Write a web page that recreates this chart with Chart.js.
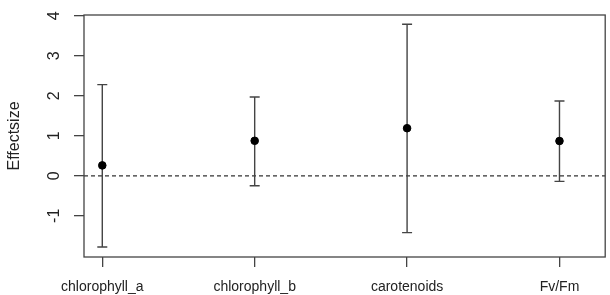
<!DOCTYPE html>
<html lang="en">
<head>
  <meta charset="utf-8">
  <title>Effectsize</title>
  <script src="https://cdn.jsdelivr.net/npm/chart.js"></script>
  <style>
    html, body { margin: 0; padding: 0; background: #fff; }
  </style>
</head>
<body>
  <canvas id="chart" width="610" height="295"></canvas>
  <script>
    // data
    const categories = ['chlorophyll_a', 'chlorophyll_b', 'carotenoids', 'Fv/Fm'];
    const effect = [0.26, 0.875, 1.19, 0.87];
    const lower = [-1.78, -0.25, -1.42, -0.14];
    const upper = [2.28, 1.97, 3.79, 1.87];
    const yTicks = [-1, 0, 1, 2, 3, 4];

    const textColor = '#222';
    const lineColor = '#444';
    const fontFamily = 'Liberation Sans, Arial, sans-serif';
    const xFont = { family: fontFamily, size: 14 };
    const yFont = { family: fontFamily, size: 16 };

    // whiskers, zero line, box and rotated y labels
    const rPlot = {
      id: 'rPlot',
      beforeDatasetsDraw(chart) {
        const { ctx, chartArea, scales } = chart;
        const x = scales.x, y = scales.y;
        ctx.save();
        // dashed line at 0
        ctx.strokeStyle = '#333';
        ctx.lineWidth = 1.2;
        ctx.setLineDash([4, 3]);
        ctx.beginPath();
        ctx.moveTo(chartArea.left, y.getPixelForValue(0));
        ctx.lineTo(chartArea.right, y.getPixelForValue(0));
        ctx.stroke();
        ctx.setLineDash([]);
        // error bars
        ctx.strokeStyle = lineColor;
        ctx.lineWidth = 1.4;
        for (let i = 0; i < categories.length; i++) {
          const px = x.getPixelForValue(i);
          const lo = y.getPixelForValue(lower[i]);
          const hi = y.getPixelForValue(upper[i]);
          ctx.beginPath();
          ctx.moveTo(px, lo); ctx.lineTo(px, hi);
          ctx.moveTo(px - 5, lo); ctx.lineTo(px + 5, lo);
          ctx.moveTo(px - 5, hi); ctx.lineTo(px + 5, hi);
          ctx.stroke();
        }
        ctx.restore();
      },
      afterDraw(chart) {
        const { ctx, chartArea, scales } = chart;
        ctx.save();
        ctx.strokeStyle = lineColor;
        ctx.lineWidth = 1.3;
        ctx.strokeRect(chartArea.left, chartArea.top, chartArea.right - chartArea.left, chartArea.bottom - chartArea.top);
        // y tick labels, rotated like base R
        ctx.fillStyle = textColor;
        ctx.font = yFont.size + 'px ' + yFont.family;
        ctx.textAlign = 'center';
        ctx.textBaseline = 'middle';
        yTicks.forEach(v => {
          ctx.save();
          ctx.translate(55, scales.y.getPixelForValue(v));
          ctx.rotate(-Math.PI / 2);
          ctx.fillText(String(v), 0, 0);
          ctx.restore();
        });
        ctx.restore();
      }
    };

    new Chart(document.getElementById('chart'), {
      type: 'scatter',
      data: {
        datasets: [{
          data: effect.map((v, i) => ({ x: i, y: v })),
          backgroundColor: '#000',
          borderColor: '#000',
          pointRadius: 3.8,
          pointHoverRadius: 3.8
        }]
      },
      options: {
        responsive: false,
        animation: false,
        layout: { padding: { top: 15, right: 3, left: 0, bottom: 0 } },
        plugins: { legend: { display: false }, tooltip: { enabled: false } },
        scales: {
          x: {
            type: 'linear',
            min: -0.12,
            max: 3.3,
            afterBuildTicks: s => { s.ticks = categories.map((c, i) => ({ value: i })); },
            afterFit: s => { s.height = 38; },
            border: { display: false },
            grid: { drawOnChartArea: false, drawTicks: true, tickLength: 10, color: lineColor, lineWidth: 1.3 },
            ticks: {
              padding: 12,
              maxRotation: 0,
              color: textColor,
              font: xFont,
              callback: v => categories[v]
            }
          },
          y: {
            min: -2.03,
            max: 4.02,
            afterBuildTicks: s => { s.ticks = yTicks.map(v => ({ value: v })); },
            afterFit: s => { s.width = 84; },
            border: { display: false },
            grid: { drawOnChartArea: false, drawTicks: true, tickLength: 10, color: lineColor, lineWidth: 1.3 },
            ticks: { display: false },
            title: {
              display: true,
              text: 'Effectsize',
              color: textColor,
              font: yFont,
              padding: { top: 5, bottom: 0 }
            }
          }
        }
      },
      plugins: [rPlot]
    });
  </script>
</body>
</html>
